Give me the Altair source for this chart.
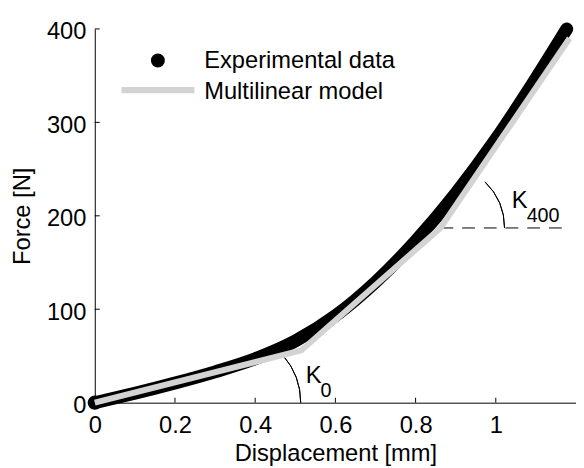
import altair as alt
import pandas as pd

# ---- data ----
exp_disp = [0.0, 0.1, 0.2, 0.3, 0.4, 0.5, 0.6, 0.7, 0.8, 0.9, 1.0, 1.1, 1.177]
exp_force = [0, 10, 21, 33, 47, 66, 93, 129, 173, 224, 282, 347, 400]

model_disp = [0.0, 0.515, 0.862, 1.184]
model_force = [0, 56, 187, 390]

x_ticks = [0, 0.2, 0.4, 0.6, 0.8, 1.0]
y_ticks = [0, 100, 200, 300, 400]

legend_labels = ["Experimental data", "Multilinear model"]

# K400 reference level (dashed line)
ref_disp = [0.862, 1.182]
ref_force = [187, 187]

# angle annotations: arc centres and labels
k_names = ["K", "K"]
k_subs = ["0", "400"]
arc_cx = [0.334, 0.862]
arc_cy = [0, 187]
arc_deg = [41, 46]
lab_x = [0.526, 1.040]
lab_y = [21, 208]

FONT = "Liberation Sans"
GRAY = "#d3d3d3"
W, H = 488, 379
PI = 3.141592653589793

xscale = alt.Scale(domain=[0, 1.2], nice=False, zero=False)
yscale = alt.Scale(domain=[0, 400], nice=False, zero=False)
xaxis = alt.Axis(values=x_ticks, format="~g", title="Displacement [mm]",
                 labelFlush=False, labelPadding=11, ticks=False, tickSize=0,
                 titleY=58.5, titleBaseline="alphabetic", grid=False)
yaxis = alt.Axis(values=y_ticks, title="Force [N]", labelPadding=9,
                 ticks=False, tickSize=0, labelOffset=3, grid=False,
                 titleX=-66, titleBaseline="alphabetic")


def X(f):
    return alt.X(f, type="quantitative", scale=xscale, axis=xaxis)


def Y(f):
    return alt.Y(f, type="quantitative", scale=yscale, axis=yaxis)


exp_df = pd.DataFrame({"d": exp_disp, "f": exp_force})
mod_df = pd.DataFrame({"d": model_disp, "f": model_force})
ref_df = pd.DataFrame({"d": [ref_disp[0]], "d2": [ref_disp[1]], "f": [ref_force[0]]})
xt_df = pd.DataFrame({"v": [v for v in x_ticks if v != 0]})
yt_df = pd.DataFrame({"v": [v for v in y_ticks if v != 0]})

# inward ticks
xticks_layer = alt.Chart(xt_df).mark_rule(color="black", strokeWidth=1).encode(
    x=X("v"), y=alt.value(H), y2=alt.value(H - 5))
yticks_layer = alt.Chart(yt_df).mark_rule(color="black", strokeWidth=1).encode(
    y=Y("v"), x=alt.value(0), x2=alt.value(5))

dashed = alt.Chart(ref_df).mark_rule(color="black", strokeWidth=1,
                                     strokeDash=[13, 9]).encode(
    x=X("d"), x2="d2", y=Y("f"))

arc_layers = []
for i, r in enumerate([73, 65]):
    adf = pd.DataFrame({"cx": [arc_cx[i]], "cy": [arc_cy[i]]})
    th = (90 - arc_deg[i]) * PI / 180
    arc_layers.append(
        alt.Chart(adf).mark_arc(filled=False, color="black", strokeWidth=1,
                                radius=r, radius2=r, theta=th,
                                theta2=PI / 2).encode(
            x=X("cx"), y=Y("cy")))

exp_line = alt.Chart(exp_df).mark_line(color="black", strokeWidth=13,
                                       strokeCap="round",
                                       interpolate="monotone").encode(
    x=X("d"), y=Y("f"))
exp_start = alt.Chart(exp_df.iloc[[0]]).mark_circle(color="black", size=210,
                                                    opacity=1).encode(
    x=X("d"), y=Y("f"))
mod_line = alt.Chart(mod_df).mark_line(color=GRAY, strokeWidth=6).encode(
    x=X("d"), y=Y("f"))

lab_df = pd.DataFrame({"x": lab_x, "y": lab_y, "k": k_names, "s": k_subs})
k_main = alt.Chart(lab_df).mark_text(align="left", baseline="alphabetic",
                                     fontSize=24, font=FONT,
                                     color="black").encode(
    x=X("x"), y=Y("y"), text="k:N")
k_sub = alt.Chart(lab_df).mark_text(align="left", baseline="alphabetic",
                                    fontSize=20, font=FONT, color="black",
                                    dx=15, dy=14).encode(
    x=X("x"), y=Y("y"), text="s:N")

# legend (drawn in pixel space)
leg_dot = alt.Chart(pd.DataFrame({"l": [legend_labels[0]]})).mark_circle(
    color="black", size=200, opacity=1).encode(
    x=alt.value(64), y=alt.value(32))
leg_line = alt.Chart(pd.DataFrame({"l": [legend_labels[1]]})).mark_rule(
    color=GRAY, strokeWidth=6.5).encode(
    x=alt.value(27), x2=alt.value(101), y=alt.value(62))
leg_t1 = alt.Chart(pd.DataFrame({"l": [legend_labels[0]]})).mark_text(
    align="left", baseline="alphabetic", fontSize=24, font=FONT,
    color="black").encode(x=alt.value(111), y=alt.value(40), text="l:N")
leg_t2 = alt.Chart(pd.DataFrame({"l": [legend_labels[1]]})).mark_text(
    align="left", baseline="alphabetic", fontSize=24, font=FONT,
    color="black").encode(x=alt.value(111), y=alt.value(71), text="l:N")

chart = alt.layer(
    xticks_layer, yticks_layer, dashed, *arc_layers,
    exp_line, exp_start, mod_line, k_main, k_sub,
    leg_dot, leg_line, leg_t1, leg_t2,
).properties(
    width=W, height=H,
    background="white",
    autosize=alt.AutoSizeParams(type="none"),
    padding={"left": 88, "top": 18, "right": 0, "bottom": 63},
).configure_view(
    strokeOpacity=0
).configure_axis(
    labelFont=FONT, titleFont=FONT, labelFontSize=24, titleFontSize=24,
    labelColor="black", titleColor="black", titleFontWeight="normal",
    domainColor="black", domainWidth=1, grid=False,
)

chart.save("out.html", embed_options={"renderer": "svg", "actions": False})
